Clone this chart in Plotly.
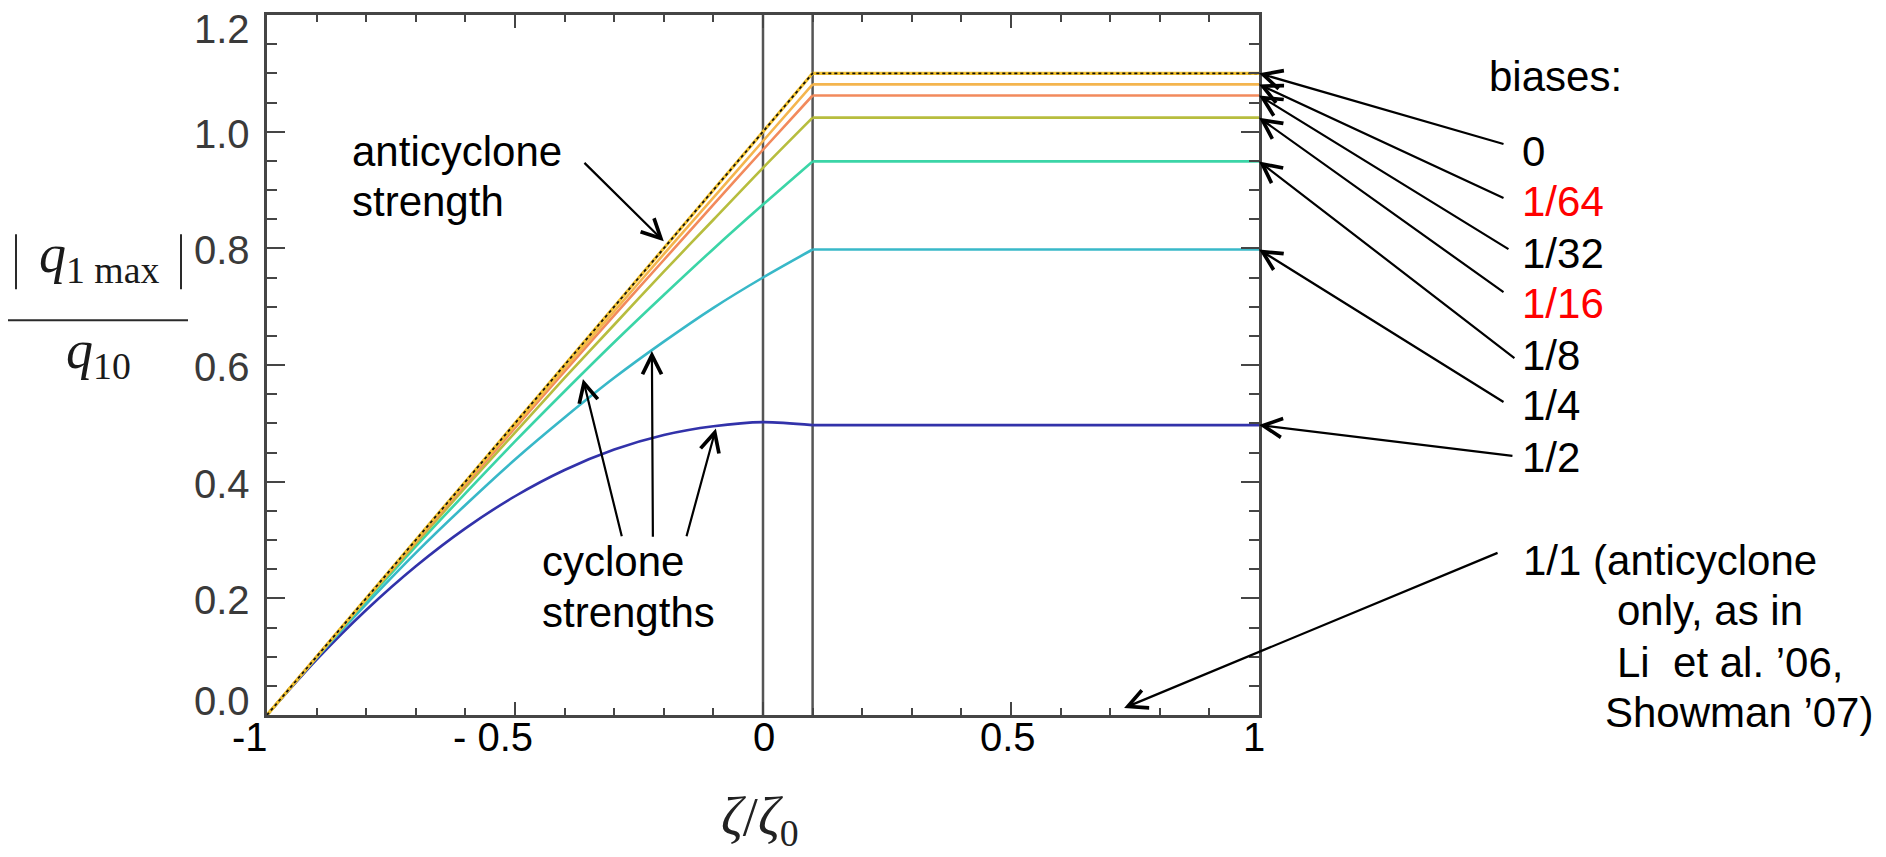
import plotly.graph_objects as go

# ---- data -----------------------------------------------------------------
zeta = [-1.0, -0.9, -0.8, -0.7, -0.6, -0.5, -0.4, -0.3, -0.2, -0.1, 0.0, 0.1, 1.0]

q_bias_0 = [0.000, 0.100, 0.200, 0.300, 0.400, 0.500, 0.600, 0.700, 0.800, 0.900, 1.000, 1.100, 1.100]
q_bias_1_64 = [0.000, 0.100, 0.199, 0.299, 0.398, 0.496, 0.594, 0.692, 0.790, 0.887, 0.984, 1.081, 1.081]
q_bias_1_32 = [0.000, 0.100, 0.199, 0.297, 0.395, 0.492, 0.589, 0.685, 0.780, 0.875, 0.969, 1.062, 1.062]
q_bias_1_16 = [0.000, 0.099, 0.198, 0.294, 0.390, 0.484, 0.578, 0.669, 0.760, 0.849, 0.938, 1.024, 1.024]
q_bias_1_8 = [0.000, 0.099, 0.195, 0.289, 0.380, 0.469, 0.555, 0.639, 0.720, 0.799, 0.875, 0.949, 0.949]
q_bias_1_4 = [0.000, 0.098, 0.190, 0.278, 0.360, 0.438, 0.510, 0.578, 0.640, 0.698, 0.750, 0.798, 0.798]
q_bias_1_2 = [0.000, 0.095, 0.180, 0.255, 0.320, 0.375, 0.420, 0.455, 0.480, 0.495, 0.502, 0.497, 0.497]

bias_labels = ["0", "1/64", "1/32", "1/16", "1/8", "1/4", "1/2"]
bias_series = [q_bias_0, q_bias_1_64, q_bias_1_32, q_bias_1_16, q_bias_1_8, q_bias_1_4, q_bias_1_2]
bias_label_colors = ["#000000", "#ff0000", "#000000", "#ff0000", "#000000", "#000000", "#000000"]
line_colors = ["#f2c230", "#f4b54e", "#f28a5c", "#b7bd3e", "#3bd5a7", "#38b8c8", "#3232aa"]

y_tick_vals = [0.0, 0.2, 0.4, 0.6, 0.8, 1.0, 1.2]
y_tick_text = ["0.0", "0.2", "0.4", "0.6", "0.8", "1.0", "1.2"]
x_tick_vals = [-1.0, -0.5, 0.0, 0.5, 1.0]
x_tick_text = ["-1", "- 0.5", "0", "0.5", "1"]

split_lines = [0.0, 0.1]
KINK = zeta.index(0.1)  # curves turn flat from here on

# ---- geometry -------------------------------------------------------------
W, H = 1886, 857
ML, MR, MT, MB = 267, 627, 13, 142
PW, PH = W - ML - MR, H - MT - MB


def px(xp):
    return (xp - ML) / PW


def py(yp):
    return (H - MB - yp) / PH


SANS = "Liberation Sans, Arial, sans-serif"
SERIF = "Liberation Serif, Times New Roman, serif"
AXIS_GREY = "#454545"

fig = go.Figure()

# curves, weakest bias drawn last so the anticyclone line sits on top
for series, color in reversed(list(zip(bias_series, line_colors))):
    width = 3.2 if series is q_bias_0 else 2.6
    fig.add_trace(go.Scatter(x=zeta[:KINK + 1], y=series[:KINK + 1], mode="lines",
                             line=dict(color=color, width=width, shape="spline", smoothing=0.8),
                             hoverinfo="skip", showlegend=False))
    fig.add_trace(go.Scatter(x=zeta[KINK:], y=series[KINK:], mode="lines",
                             line=dict(color=color, width=width),
                             hoverinfo="skip", showlegend=False))
# black dots over the zero-bias curve
fig.add_trace(go.Scatter(x=zeta, y=q_bias_0, mode="lines",
                         line=dict(color="#111111", width=1.8, dash="dot"),
                         hoverinfo="skip", showlegend=False))

for xv in split_lines:
    fig.add_shape(type="line", xref="x", yref="paper", x0=xv, x1=xv, y0=0, y1=1,
                  line=dict(color="#555555", width=2.5), layer="below")

annotations = []

# y tick labels (end labels pulled inside the frame)
for i, (v, t) in enumerate(zip(y_tick_vals, y_tick_text)):
    shift = -2
    if i == 0:
        shift = 14
    elif i == len(y_tick_vals) - 1:
        shift = -14
    annotations.append(dict(x=px(252), xref="paper", y=v, yref="y", yshift=shift,
                            text=t, showarrow=False, xanchor="right", yanchor="middle",
                            font=dict(family=SANS, size=40, color="#3a3a3a")))

# x tick labels
x_label_shift = [-17, -22, 1, -3, -5]
for v, t, s in zip(x_tick_vals, x_tick_text, x_label_shift):
    annotations.append(dict(x=v, xref="x", y=py(737), yref="paper", xshift=s,
                            text=t, showarrow=False, xanchor="center", yanchor="middle",
                            font=dict(family=SANS, size=40, color="#000000")))

# axis titles
annotations.append(dict(x=px(760), y=py(821), xref="paper", yref="paper",
                        text="<i>ζ</i>/<i>ζ</i><sub>0</sub>", showarrow=False,
                        xanchor="center", yanchor="middle",
                        font=dict(family=SERIF, size=54, color="#222222")))
annotations.append(dict(x=px(99), y=py(256), xref="paper", yref="paper",
                        text="<i>q</i><sub>1 max</sub>", showarrow=False,
                        xanchor="center", yanchor="middle",
                        font=dict(family=SERIF, size=54, color="#1a1a1a")))
annotations.append(dict(x=px(98), y=py(352), xref="paper", yref="paper",
                        text="<i>q</i><sub>10</sub>", showarrow=False,
                        xanchor="center", yanchor="middle",
                        font=dict(family=SERIF, size=54, color="#1a1a1a")))


def text_note(xp, yp, text, color="#000000"):
    annotations.append(dict(x=px(xp), y=py(yp), xref="paper", yref="paper",
                            text=text, showarrow=False, xanchor="left", yanchor="middle",
                            font=dict(family=SANS, size=42, color=color)))


def arrow(x_tip, y_tip, x_tail, y_tail):
    annotations.append(dict(x=x_tip, y=y_tip, xref="x", yref="y",
                            ax=x_tail, ay=y_tail, axref="x", ayref="y",
                            text="", showarrow=True, arrowhead=5, arrowsize=1.7,
                            arrowwidth=2.2, arrowcolor="#000000", standoff=0))


text_note(350, 150, "anticyclone")
text_note(350, 200, "strength")
arrow(-0.20, 0.812, -0.363, 0.949)

text_note(540, 561, "cyclone")
text_note(540, 612, "strengths")
arrow(-0.363, 0.576, -0.284, 0.304)
arrow(-0.224, 0.624, -0.222, 0.303)
arrow(-0.095, 0.491, -0.155, 0.304)

text_note(1487, 75, "biases:")
label_centers = [150, 200, 252, 302, 354, 405, 457]
tails = [(1.496, 0.978), (1.496, 0.885), (1.506, 0.797), (1.496, 0.723),
         (1.518, 0.610), (1.496, 0.535), (1.514, 0.444)]
for lab, col, yc, series, (tx, ty) in zip(bias_labels, bias_label_colors,
                                          label_centers, bias_series, tails):
    text_note(1520, yc, lab, col)
    arrow(1.0, series[-1], tx, ty)

text_note(1521, 560, "1/1 (anticyclone")
text_note(1615, 610, "only, as in")
text_note(1615, 662, "Li\u00a0 et al. \u201906,")
text_note(1603, 712, "Showman \u201907)")
arrow(0.728, 0.012, 1.484, 0.279)

shapes_extra = [
    # fraction bar and absolute-value bars of the y title
    dict(type="line", xref="paper", yref="paper", x0=px(8), x1=px(188),
         y0=py(319), y1=py(319), line=dict(color="#2a2a2a", width=2)),
    dict(type="line", xref="paper", yref="paper", x0=px(16), x1=px(16),
         y0=py(233), y1=py(288), line=dict(color="#2a2a2a", width=2)),
    dict(type="line", xref="paper", yref="paper", x0=px(181), x1=px(181),
         y0=py(233), y1=py(288), line=dict(color="#2a2a2a", width=2)),
]
for s in shapes_extra:
    fig.add_shape(**s)

fig.update_layout(
    width=W, height=H, autosize=False,
    margin=dict(l=ML, r=MR, t=MT, b=MB, pad=0),
    paper_bgcolor="white", plot_bgcolor="white",
    annotations=annotations,
    showlegend=False,
)
fig.update_xaxes(range=[-1, 1], showgrid=False, zeroline=False,
                 showline=True, linecolor=AXIS_GREY, linewidth=3, mirror="ticks",
                 ticks="inside", tickvals=x_tick_vals, ticklen=13, tickwidth=2,
                 tickcolor=AXIS_GREY, showticklabels=False,
                 minor=dict(dtick=0.1, tick0=0, ticks="inside", ticklen=7,
                            tickwidth=2, tickcolor=AXIS_GREY, showgrid=False))
fig.update_yaxes(range=[0, 1.2], showgrid=False, zeroline=False,
                 showline=True, linecolor=AXIS_GREY, linewidth=3, mirror="ticks",
                 ticks="inside", tickvals=y_tick_vals, ticklen=18, tickwidth=2,
                 tickcolor=AXIS_GREY, showticklabels=False,
                 minor=dict(dtick=0.05, tick0=0, ticks="inside", ticklen=10,
                            tickwidth=2, tickcolor=AXIS_GREY, showgrid=False))

fig.write_html("out.html")
